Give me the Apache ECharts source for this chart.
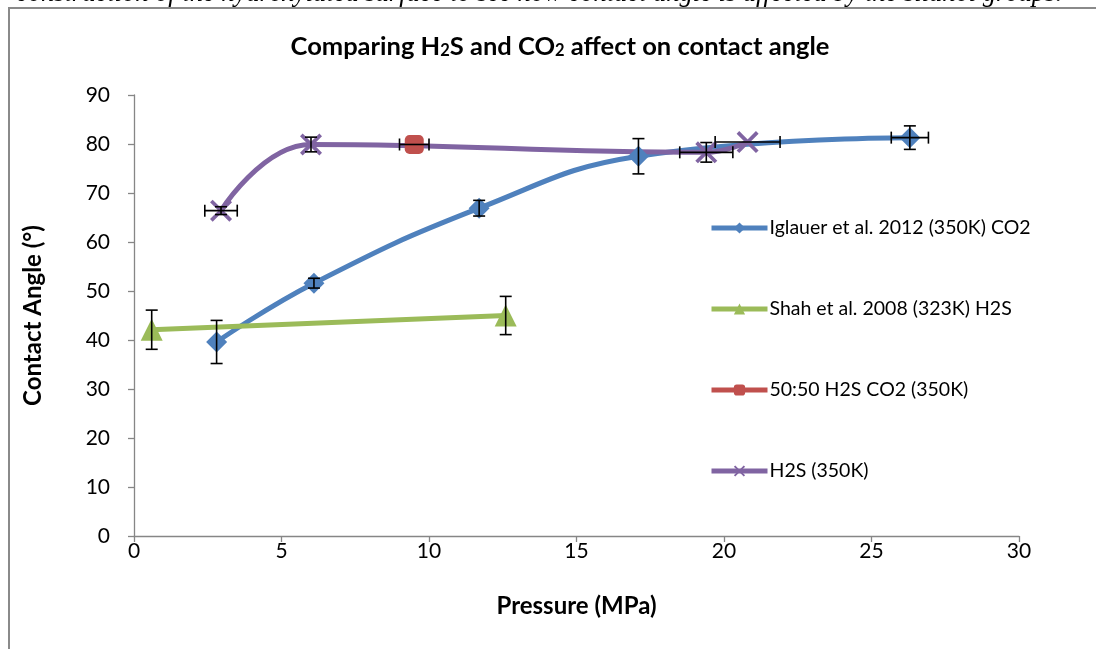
<!DOCTYPE html>
<html>
<head>
<meta charset="utf-8">
<script src="https://cdn.jsdelivr.net/npm/echarts@6/dist/echarts.min.js"></script>
<style>
html,body{margin:0;padding:0;background:#fff;}
#chart{width:1096px;height:649px;}
</style>
</head>
<body>
<div id="chart"></div>
<script>
// ---- Data ----
const xTicks = [0, 5, 10, 15, 20, 25, 30];
const yTicks = [0, 10, 20, 30, 40, 50, 60, 70, 80, 90];

const seriesNames = [
  'Iglauer et al. 2012 (350K) CO2',
  'Shah et al. 2008 (323K) H2S',
  '50:50 H2S CO2 (350K)',
  'H2S (350K)'
];

const iglauerX    = [2.8, 6.1, 11.7, 17.1, 26.3];
const iglauerY    = [39.6, 51.6, 66.9, 77.5, 81.3];
const iglauerXErr = [0, 0, 0, 0, 0.63];
const iglauerYErr = [4.4, 1.0, 1.6, 3.6, 2.4];

const shahX    = [0.6, 12.6];
const shahY    = [42.1, 45.0];
const shahXErr = [0, 0];
const shahYErr = [4.0, 3.9];

const mixX    = [9.5];
const mixY    = [79.9];
const mixXErr = [0.5];
const mixYErr = [0];

const h2sX    = [2.95, 6.0, 19.4, 20.8];
const h2sY    = [66.4, 79.9, 78.3, 80.4];
const h2sXErr = [0.55, 0, 0.9, 1.1];
const h2sYErr = [0.8, 1.5, 2.0, 0];

const colors = ['#4F81BD', '#9BBB59', '#C0504D', '#8064A2'];

// ---- Build ----
function pts(X, Y) { return X.map((x, i) => [x, Y[i]]); }
function errs(X, Y, XE, YE) { return X.map((x, i) => [x, Y[i], XE[i], YE[i]]); }

const errData = []
  .concat(errs(iglauerX, iglauerY, iglauerXErr, iglauerYErr))
  .concat(errs(shahX, shahY, shahXErr, shahYErr))
  .concat(errs(mixX, mixY, mixXErr, mixYErr))
  .concat(errs(h2sX, h2sY, h2sXErr, h2sYErr));

const FONT = 'Lato';
const crossPath = 'path://M0,1.2L1.2,0L10,8.8L8.8,10Z M8.8,0L10,1.2L1.2,10L0,8.8Z';

function renderErr(params, api) {
  const x = api.value(0), y = api.value(1), xe = api.value(2), ye = api.value(3);
  const cap = 6;
  const style = { stroke: '#000', lineWidth: 1.6 };
  const children = [];
  if (ye > 0) {
    const a = api.coord([x, y + ye]), b = api.coord([x, y - ye]);
    children.push({ type: 'line', shape: { x1: a[0], y1: a[1], x2: b[0], y2: b[1] }, style });
    children.push({ type: 'line', shape: { x1: a[0] - cap, y1: a[1], x2: a[0] + cap, y2: a[1] }, style });
    children.push({ type: 'line', shape: { x1: b[0] - cap, y1: b[1], x2: b[0] + cap, y2: b[1] }, style });
  }
  if (xe > 0) {
    const a = api.coord([x - xe, y]), b = api.coord([x + xe, y]);
    children.push({ type: 'line', shape: { x1: a[0], y1: a[1], x2: b[0], y2: b[1] }, style });
    children.push({ type: 'line', shape: { x1: a[0], y1: a[1] - cap, x2: a[0], y2: a[1] + cap }, style });
    children.push({ type: 'line', shape: { x1: b[0], y1: b[1] - cap, x2: b[0], y2: b[1] + cap }, style });
  }
  return { type: 'group', children };
}

const chart = echarts.init(document.getElementById('chart'), null, { renderer: 'canvas' });

const option = {
  animation: false,
  backgroundColor: '#ffffff',
  color: colors,
  grid: { left: 134, right: 77, top: 95, bottom: 113, containLabel: false },
  legend: {
    data: seriesNames,
    orient: 'vertical',
    left: 704,
    top: 213,
    itemWidth: 56,
    itemHeight: 14,
    itemGap: 61,
    lineStyle: { width: 5 },
    textStyle: { fontFamily: FONT, fontSize: 19.5, color: '#000', padding: [0, 0, 0, -3] }
  },
  xAxis: {
    type: 'value',
    min: xTicks[0],
    max: xTicks[xTicks.length - 1],
    interval: 5,
    name: 'Pressure (MPa)',
    nameLocation: 'middle',
    nameGap: 58,
    nameTextStyle: { fontFamily: FONT, fontSize: 24, fontWeight: 'bold', color: '#000' },
    axisLine: { show: true, onZero: false, lineStyle: { color: '#868686', width: 1.3 } },
    axisTick: { show: true, length: 6, inside: false, lineStyle: { color: '#868686', width: 1.3 } },
    axisLabel: { margin: 5, fontFamily: FONT, fontSize: 21, color: '#000',
      formatter: v => String(v) },
    splitLine: { show: false }
  },
  yAxis: {
    type: 'value',
    min: yTicks[0],
    max: yTicks[yTicks.length - 1],
    interval: 10,
    name: 'Contact Angle (°)',
    nameLocation: 'middle',
    nameGap: 89,
    nameTextStyle: { fontFamily: FONT, fontSize: 24, fontWeight: 'bold', color: '#000' },
    axisLine: { show: true, onZero: false, lineStyle: { color: '#868686', width: 1.3 } },
    axisTick: { show: true, length: 6, inside: false, lineStyle: { color: '#868686', width: 1.3 } },
    axisLabel: { margin: 24, fontFamily: FONT, fontSize: 21, color: '#000' },
    splitLine: { show: false }
  },
  graphic: [
    {
      type: 'rect',
      shape: { x: 9, y: 8, width: 1300, height: 900 },
      style: { fill: 'none', stroke: '#8a8a8a', lineWidth: 2 },
      silent: true, z: -10
    },
    {
      type: 'text',
      x: 1062, y: -6,
      style: {
        text: 'construction of the hydroxylated surface to see how contact angle is affected by the silanol groups.',
        font: 'italic 26.5px "Liberation Serif"',
        fill: '#000', align: 'right', verticalAlign: 'middle'
      },
      silent: true
    },
    {
      type: 'text',
      x: 560, y: 47,
      style: {
        text: 'Comparing H{s|2}S and CO{s|2} affect on contact angle',
        fontFamily: FONT, fontSize: 25.5, fontWeight: 'bold', fill: '#000',
        align: 'center', verticalAlign: 'middle',
        rich: { s: { fontFamily: FONT, fontSize: 16.5, fontWeight: 'bold', fill: '#000', padding: [7, 0, 0, 0] } }
      },
      silent: true
    }
  ],
  series: [
    {
      name: seriesNames[0], type: 'line', data: pts(iglauerX, iglauerY),
      smooth: 0.45, symbol: 'diamond', symbolSize: 21,
      lineStyle: { width: 5, color: colors[0] }, itemStyle: { color: colors[0] }, z: 2
    },
    {
      name: seriesNames[1], type: 'line', data: pts(shahX, shahY),
      smooth: false, symbol: 'triangle', symbolSize: 22,
      lineStyle: { width: 5, color: colors[1] }, itemStyle: { color: colors[1] }, z: 2
    },
    {
      name: seriesNames[2], type: 'line', data: pts(mixX, mixY),
      symbol: 'roundRect', symbolSize: 19,
      lineStyle: { width: 5, color: colors[2] }, itemStyle: { color: colors[2] }, z: 2
    },
    {
      name: seriesNames[3], type: 'line', data: pts(h2sX, h2sY),
      smooth: 0.45, symbol: crossPath, symbolSize: 22,
      lineStyle: { width: 5, color: colors[3] }, itemStyle: { color: colors[3] }, z: 2
    },
    {
      name: 'errors', type: 'custom', coordinateSystem: 'cartesian2d',
      data: errData, encode: { x: 0, y: 1 }, renderItem: renderErr, clip: false, z: 3,
      silent: true
    }
  ]
};

chart.setOption(option);
</script>
</body>
</html>
